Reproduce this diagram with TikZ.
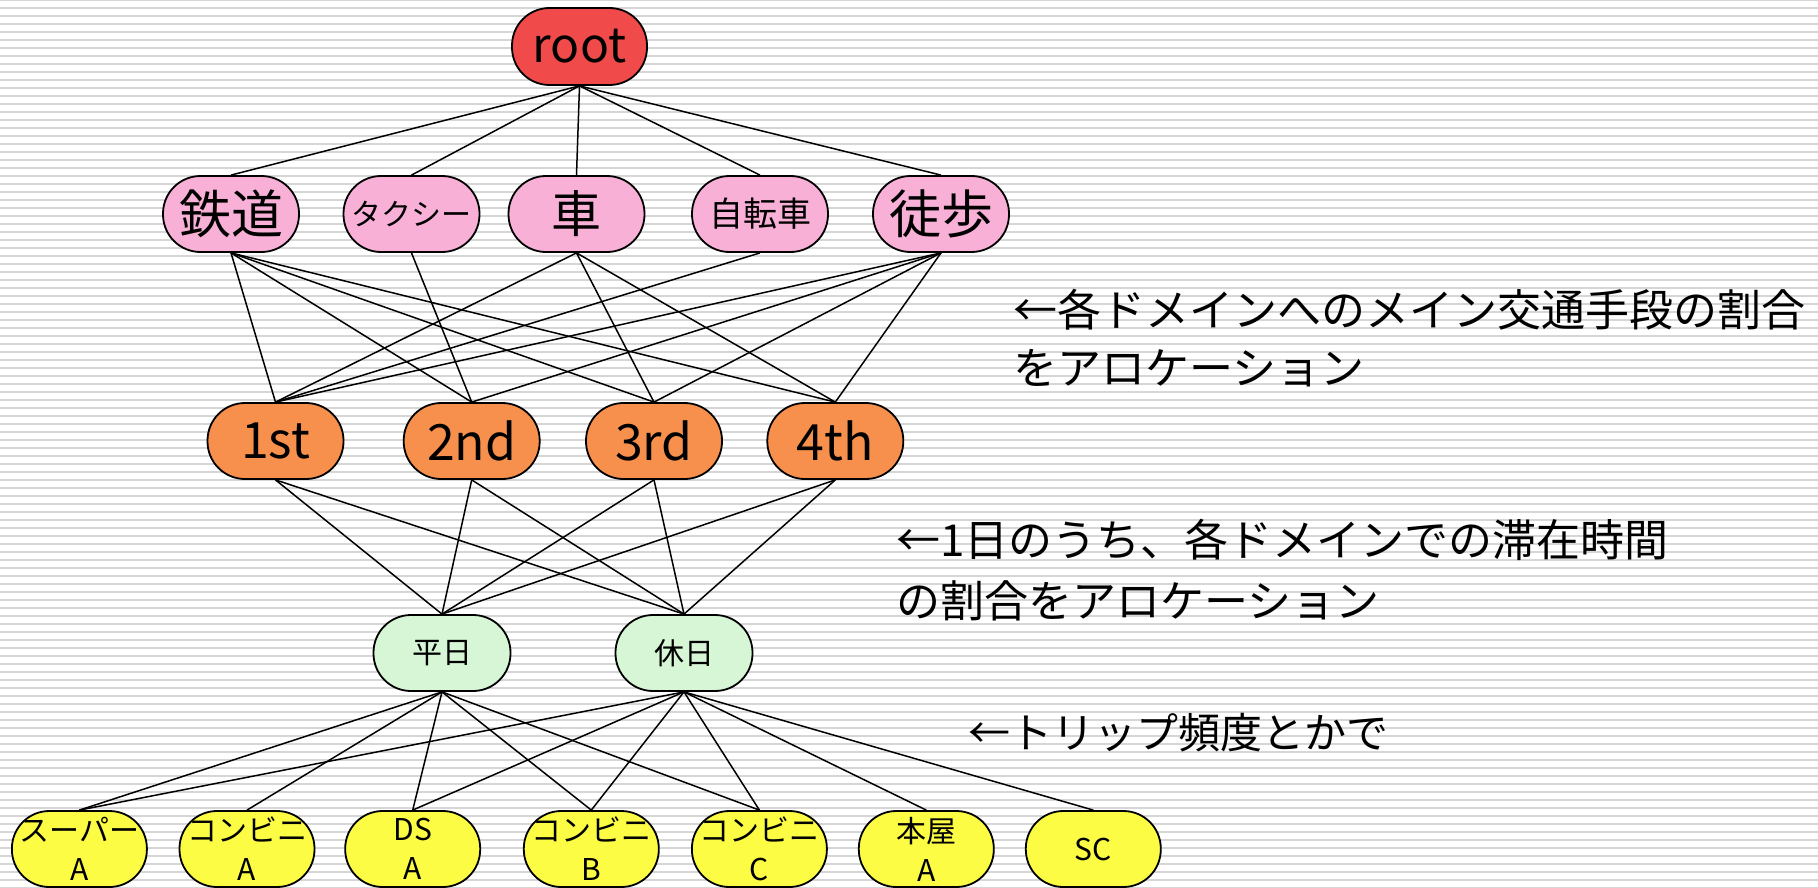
\documentclass[tikz,border=0pt]{standalone}
\usepackage{fontspec}
\setmainfont{Noto Sans CJK JP}
\usetikzlibrary{backgrounds}
\definecolor{rootred}{HTML}{F04A4A}
\definecolor{modepink}{HTML}{F8B0D6}
\definecolor{domorange}{HTML}{F6904C}
\definecolor{daygreen}{HTML}{D6F6D6}
\definecolor{shopyellow}{HTML}{FCFC44}
\definecolor{stripe}{HTML}{D6D6D6}
\tikzset{
  pill/.style={draw=black, line width=1.8pt, rectangle, rounded corners=37.5pt,
    minimum width=136pt, minimum height=76pt, inner sep=0pt, align=center},
  rootbox/.style={pill, fill=rootred, minimum width=135pt, minimum height=77pt, font=\fontsize{48}{56}\selectfont},
  modebox/.style={pill, fill=modepink},
  dombox/.style={pill, fill=domorange, font=\fontsize{50}{58}\selectfont},
  daybox/.style={pill, fill=daygreen, minimum width=137pt, font=\fontsize{30}{36}\selectfont},
  shopbox/.style={pill, fill=shopyellow, minimum width=135pt, font=\fontsize{30}{39}\selectfont},
  link/.style={draw=black, line width=1.5pt},
  note/.style={inner sep=0pt, anchor=west, align=left}
}
\begin{document}
\begin{tikzpicture}[x=1pt,y=-1pt]
\useasboundingbox (0,0) rectangle (1818,888);
\begin{scope}[on background layer]
  \fill[white] (0,0) rectangle (1818,888);
  \foreach \k in {0,...,111} {
    \draw[stripe, line width=1.8pt] (0,{8*\k}) -- (1818,{8*\k});
  }
\end{scope}
% root
\node[rootbox] (root) at (579.5,46.5) {root};
% transport modes
\node[modebox, font=\fontsize{52}{60}\selectfont] (rail) at (231,214) {鉄道};
\node[modebox, font=\fontsize{30}{36}\selectfont] (taxi) at (411.5,214) {タクシー};
\node[modebox, font=\fontsize{50}{58}\selectfont] (car) at (576.5,214) {車};
\node[modebox, font=\fontsize{34}{40}\selectfont] (bike) at (760,214) {自転車};
\node[modebox, font=\fontsize{52}{60}\selectfont] (walk) at (941,214) {徒歩};
% domains
\node[dombox] (d1) at (275.5,441) {1st};
\node[dombox] (d2) at (471.7,441) {2nd};
\node[dombox] (d3) at (654,441) {3rd};
\node[dombox] (d4) at (835.3,441) {4th};
% day types
\node[daybox] (wd) at (442,653) {平日};
\node[daybox] (hd) at (684,653) {休日};
% shops
\node[shopbox] (s1) at (79.4,849) {スーパー\\A};
\node[shopbox] (s2) at (247,849) {コンビニ\\A};
\node[shopbox] (s3) at (412.7,849) {DS\\A};
\node[shopbox] (s4) at (591.3,849) {コンビニ\\B};
\node[shopbox] (s5) at (759.4,849) {コンビニ\\C};
\node[shopbox] (s6) at (926.3,849) {本屋\\A};
\node[shopbox] (s7) at (1093.3,849) {SC};
% notes
\node[note, font=\fontsize{44}{58}\selectfont] (n1) at (1013,338) {←各ドメインへのメイン交通手段の割合\\をアロケーション};
\node[note, font=\fontsize{44}{61}\selectfont] (n2) at (896,570) {←1日のうち、各ドメインでの滞在時間\\の割合をアロケーション};
\node[note, font=\fontsize{42}{52}\selectfont] (n3) at (968,733) {←トリップ頻度とかで};
% edges
\begin{scope}[on background layer]
  \foreach \m in {rail,taxi,car,bike,walk} { \draw[link] (root.south) -- (\m.north); }
  \foreach \d in {d1,d2,d3,d4} { \draw[link] (rail.south) -- (\d.north); \draw[link] (walk.south) -- (\d.north); }
  \draw[link] (taxi.south) -- (d2.north);
  \foreach \d in {d1,d3,d4} { \draw[link] (car.south) -- (\d.north); }
  \draw[link] (bike.south) -- (d1.north);
  \foreach \d in {d1,d2,d3,d4} { \draw[link] (\d.south) -- (wd.north); \draw[link] (\d.south) -- (hd.north); }
  \foreach \s in {s1,s2,s3,s4,s5} { \draw[link] (wd.south) -- (\s.north); }
  \foreach \s in {s1,s3,s4,s5,s6,s7} { \draw[link] (hd.south) -- (\s.north); }
\end{scope}
\end{tikzpicture}
\end{document}
